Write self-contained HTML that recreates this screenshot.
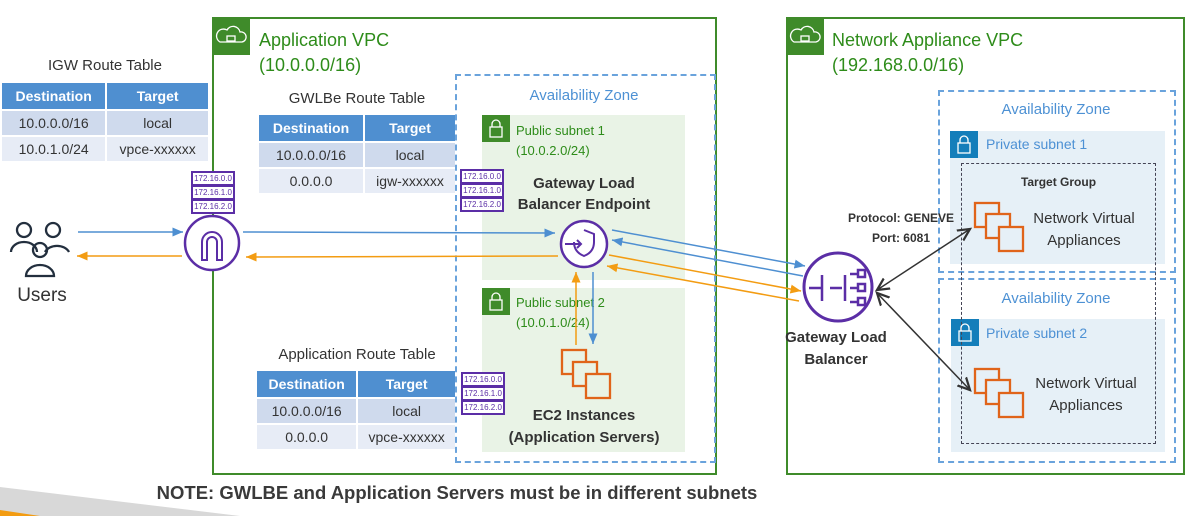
<!DOCTYPE html>
<html><head><meta charset="utf-8"><style>
body{margin:0;width:1188px;height:516px;overflow:hidden;background:#fff;font-family:"Liberation Sans",sans-serif;position:relative}
.a{position:absolute}
table{border-collapse:separate;border-spacing:2px;position:absolute;font-size:14px;color:#333}
td{text-align:center;padding:0}
th{background:#4f8fd0;color:#fff;font-size:14px;height:24px}
tr.r1 td{background:#cfdaed;height:24px}
tr.r2 td{background:#e7ecf6;height:24px}
.t{position:absolute;text-align:center;color:#333}
.b{font-weight:bold}
.ip{position:absolute;width:40px;height:11px;border:2px solid #5b2ea6;font-size:8px;color:#5b2ea6;text-align:center;line-height:11px;background:#fff}
</style></head><body>
<div class="a" style="left:212px;top:17px;width:501px;height:454px;border:2px solid #3f8b2a"></div>
<div class="a" style="left:212px;top:17px;width:38px;height:38px;background:#3f8b2a"></div>
<div class="a" style="left:786px;top:17px;width:395px;height:454px;border:2px solid #3f8b2a"></div>
<div class="a" style="left:786px;top:17px;width:38px;height:38px;background:#3f8b2a"></div>
<div class="a" style="left:259px;top:28px;font-size:18px;color:#2e8c1a;line-height:25px">Application VPC<br>(10.0.0.0/16)</div>
<div class="a" style="left:832px;top:28px;font-size:18px;color:#2e8c1a;line-height:25px">Network Appliance VPC<br>(192.168.0.0/16)</div>
<div class="a" style="left:455px;top:74px;width:257px;height:385px;border:2px dashed #6aa3dc"></div>
<div class="t" style="left:455px;top:87px;width:258px;font-size:15px;color:#4d91d4">Availability Zone</div>
<div class="a" style="left:482px;top:115px;width:203px;height:165px;background:#e9f3e6"></div>
<div class="a" style="left:482px;top:115px;width:28px;height:27px;background:#3f8b2a"></div>
<div class="a" style="left:516px;top:121px;font-size:13px;color:#2e8c1a;line-height:20px">Public subnet 1<br>(10.0.2.0/24)</div>
<div class="a" style="left:482px;top:288px;width:203px;height:164px;background:#e9f3e6"></div>
<div class="a" style="left:482px;top:288px;width:28px;height:27px;background:#3f8b2a"></div>
<div class="a" style="left:516px;top:293px;font-size:13px;color:#2e8c1a;line-height:20px">Public subnet 2<br>(10.0.1.0/24)</div>
<div class="t b" style="left:490px;top:173px;width:188px;font-size:15px;line-height:21px">Gateway Load<br>Balancer Endpoint</div>
<div class="t b" style="left:484px;top:405px;width:200px;font-size:15px;line-height:22px">EC2 Instances<br>(Application Servers)</div>
<div class="a" style="left:938px;top:90px;width:234px;height:179px;border:2px dashed #6aa3dc"></div>
<div class="t" style="left:938px;top:101px;width:236px;font-size:15px;color:#4d91d4">Availability Zone</div>
<div class="a" style="left:950px;top:131px;width:215px;height:133px;background:#e6f0f7"></div>
<div class="a" style="left:950px;top:131px;width:28px;height:27px;background:#147eba"></div>
<div class="a" style="left:986px;top:136px;font-size:14px;color:#4d91d4">Private subnet 1</div>
<div class="a" style="left:938px;top:278px;width:234px;height:181px;border:2px dashed #6aa3dc"></div>
<div class="t" style="left:938px;top:290px;width:236px;font-size:15px;color:#4d91d4">Availability Zone</div>
<div class="a" style="left:951px;top:319px;width:214px;height:133px;background:#e6f0f7"></div>
<div class="a" style="left:951px;top:319px;width:28px;height:27px;background:#147eba"></div>
<div class="a" style="left:986px;top:325px;font-size:14px;color:#4d91d4">Private subnet 2</div>
<div class="a" style="left:961px;top:163px;width:193px;height:279px;border:1.5px dashed #445"></div>
<div class="t b" style="left:961px;top:175px;width:195px;font-size:12px">Target Group</div>
<div class="t" style="left:1024px;top:208px;width:120px;font-size:15px;line-height:22px">Network Virtual<br>Appliances</div>
<div class="t" style="left:1026px;top:373px;width:120px;font-size:15px;line-height:22px">Network Virtual<br>Appliances</div>
<div class="a b" style="left:820px;top:208px;width:134px;text-align:right;font-size:12px;color:#333;line-height:20px">Protocol: GENEVE<br><span style="padding-right:24px">Port: 6081</span></div>
<div class="t b" style="left:776px;top:327px;width:120px;font-size:15px;line-height:22px">Gateway Load<br>Balancer</div>
<div class="t" style="left:2px;top:57px;width:206px;font-size:15px">IGW Route Table</div>
<table style="left:0px;top:81px;width:210px"><tr><th>Destination</th><th>Target</th></tr><tr class="r1"><td>10.0.0.0/16</td><td>local</td></tr><tr class="r2"><td>10.0.1.0/24</td><td>vpce-xxxxxx</td></tr></table>
<div class="t" style="left:259px;top:90px;width:196px;font-size:15px">GWLBe Route Table</div>
<table style="left:257px;top:113px;width:200px"><tr><th>Destination</th><th>Target</th></tr><tr class="r1"><td>10.0.0.0/16</td><td>local</td></tr><tr class="r2"><td>0.0.0.0</td><td>igw-xxxxxx</td></tr></table>
<div class="t" style="left:259px;top:346px;width:196px;font-size:15px">Application Route Table</div>
<table style="left:255px;top:369px;width:202px"><tr><th>Destination</th><th>Target</th></tr><tr class="r1"><td>10.0.0.0/16</td><td>local</td></tr><tr class="r2"><td>0.0.0.0</td><td>vpce-xxxxxx</td></tr></table>
<div class="ip" style="left:191px;top:171px">172.16.0.0</div><div class="ip" style="left:191px;top:185px">172.16.1.0</div><div class="ip" style="left:191px;top:199px">172.16.2.0</div>
<div class="ip" style="left:460px;top:169px">172.16.0.0</div><div class="ip" style="left:460px;top:183px">172.16.1.0</div><div class="ip" style="left:460px;top:197px">172.16.2.0</div>
<div class="ip" style="left:461px;top:372px">172.16.0.0</div><div class="ip" style="left:461px;top:386px">172.16.1.0</div><div class="ip" style="left:461px;top:400px">172.16.2.0</div>
<div class="t" style="left:2px;top:285px;width:80px;font-size:19px">Users</div>
<div class="t b" style="left:60px;top:482px;width:794px;font-size:18.5px;color:#3a3a3a">NOTE: GWLBE and Application Servers must be in different subnets</div>
<svg class="a" style="left:0;top:0" width="1188" height="516">
<defs>
<marker id="mb" markerWidth="8" markerHeight="8" refX="7" refY="4" orient="auto"><path d="M0,1 L7,4 L0,7z" fill="#4e8fd1"/></marker>
<marker id="mo" markerWidth="8" markerHeight="8" refX="7" refY="4" orient="auto"><path d="M0,1 L7,4 L0,7z" fill="#f39c12"/></marker>
<marker id="mk" markerWidth="10" markerHeight="10" refX="8" refY="5" orient="auto"><path d="M0,1 L8,5 L0,9" fill="none" stroke="#333" stroke-width="1.5"/></marker>
<marker id="mks" markerWidth="10" markerHeight="10" refX="2" refY="5" orient="auto"><path d="M10,1 L2,5 L10,9" fill="none" stroke="#333" stroke-width="1.5"/></marker>
</defs>
<polygon points="0,487 240,516 0,516" fill="#d8d8d8"/><polygon points="0,510 40,516 0,516" fill="#f39c12"/>
<g fill="none" stroke="#fff" stroke-width="1.3"><path d="M220,42 h22 a5,5 0 0 0 -2,-10 a7,7 0 0 0 -13,-2 a5,5 0 0 0 -7,12z"/><rect x="227" y="36" width="8" height="5"/>
<path d="M794,42 h22 a5,5 0 0 0 -2,-10 a7,7 0 0 0 -13,-2 a5,5 0 0 0 -7,12z"/><rect x="801" y="36" width="8" height="5"/>
<g transform="translate(482,115)"><rect x="8" y="12" width="12" height="10"/><path d="M10,12 v-3 a4,4 0 0 1 8,0 v3"/></g>
<g transform="translate(482,288)"><rect x="8" y="12" width="12" height="10"/><path d="M10,12 v-3 a4,4 0 0 1 8,0 v3"/></g>
<g transform="translate(950,131)"><rect x="8" y="12" width="12" height="10"/><path d="M10,12 v-3 a4,4 0 0 1 8,0 v3"/></g>
<g transform="translate(951,319)"><rect x="8" y="12" width="12" height="10"/><path d="M10,12 v-3 a4,4 0 0 1 8,0 v3"/></g></g>
<g fill="none" stroke="#232f3e" stroke-width="2.3"><circle cx="24" cy="230" r="7"/><path d="M11,252 a13,10 0 0 1 26,0"/><circle cx="53" cy="230" r="7"/><path d="M45,252 a13,10 0 0 1 24,0"/><circle cx="40" cy="250" r="7"/><path d="M26,276 a14,11 0 0 1 28,0z"/></g>
<circle cx="212" cy="243" r="27" fill="#fff" stroke="#5b2ea6" stroke-width="2.5"/>
<path d="M202,260 v-18 a10,10 0 0 1 20,0 v18 h-5 v-18 a5,5 0 0 0 -10,0 v18z" fill="none" stroke="#5b2ea6" stroke-width="2"/>
<circle cx="584" cy="244" r="23" fill="#fff" stroke="#5b2ea6" stroke-width="2.5"/>
<path d="M584,230 l10,4 v8 c0,8 -5,12 -10,14 c-5,-2 -10,-6 -10,-14" fill="none" stroke="#5b2ea6" stroke-width="2"/>
<path d="M565,244 h16 m-4,-4 l4,4 l-4,4" fill="none" stroke="#5b2ea6" stroke-width="2"/>
<circle cx="838" cy="287" r="34" fill="#fff" stroke="#5b2ea6" stroke-width="3"/>
<g fill="none" stroke="#5b2ea6" stroke-width="2.5"><path d="M809,288 h12 M822,275 v26 M830,288 h12 M845,275 v26 M850,274 h8 M850,288 h8 M850,302 h8"/><rect x="858" y="270" width="7" height="7"/><rect x="858" y="284" width="7" height="7"/><rect x="858" y="298" width="7" height="7"/></g>
<g fill="none" stroke="#e0641a" stroke-width="2.3">
<rect x="562" y="350" width="24" height="24"/><rect x="573" y="362" width="24" height="24" fill="#e9f3e6"/><rect x="586" y="374" width="24" height="24" fill="#e9f3e6"/>
<rect x="975" y="203" width="24" height="24"/><rect x="986" y="214" width="24" height="24" fill="#e6f0f7"/><rect x="999" y="227" width="24" height="24" fill="#e6f0f7"/>
<rect x="975" y="369" width="24" height="24"/><rect x="986" y="380" width="24" height="24" fill="#e6f0f7"/><rect x="999" y="393" width="24" height="24" fill="#e6f0f7"/></g>
<g stroke-width="1.5" fill="none">
<line x1="78" y1="232" x2="183" y2="232" stroke="#4e8fd1" marker-end="url(#mb)"/>
<line x1="182" y1="256" x2="77" y2="256" stroke="#f39c12" marker-end="url(#mo)"/>
<line x1="243" y1="232" x2="555" y2="233" stroke="#4e8fd1" marker-end="url(#mb)"/>
<line x1="558" y1="256" x2="246" y2="257" stroke="#f39c12" marker-end="url(#mo)"/>
<line x1="612" y1="230" x2="805" y2="266" stroke="#4e8fd1" marker-end="url(#mb)"/>
<line x1="803" y1="276" x2="612" y2="240" stroke="#4e8fd1" marker-end="url(#mb)"/>
<line x1="609" y1="255" x2="801" y2="291" stroke="#f39c12" marker-end="url(#mo)"/>
<line x1="799" y1="301" x2="607" y2="266" stroke="#f39c12" marker-end="url(#mo)"/>
<line x1="576" y1="345" x2="576" y2="272" stroke="#f39c12" marker-end="url(#mo)"/>
<line x1="593" y1="272" x2="593" y2="344" stroke="#4e8fd1" marker-end="url(#mb)"/>
<line x1="877" y1="290" x2="970" y2="229" stroke="#333" marker-start="url(#mks)" marker-end="url(#mk)"/>
<line x1="877" y1="293" x2="970" y2="390" stroke="#333" marker-start="url(#mks)" marker-end="url(#mk)"/>
</g>
</svg>
</body></html>
